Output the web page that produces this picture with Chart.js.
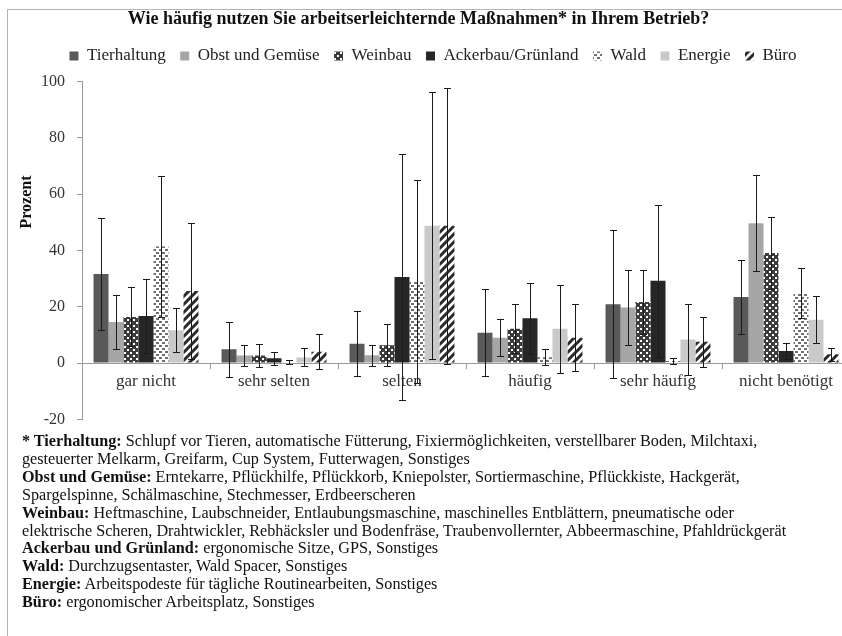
<!DOCTYPE html>
<html>
<head>
<meta charset="utf-8">
<script src="https://cdn.jsdelivr.net/npm/chart.js@4.4.1/dist/chart.umd.min.js"></script>
<style>
  html, body { margin: 0; padding: 0; width: 842px; height: 636px; overflow: hidden; background: #fff; }
  #frame { position: absolute; left: 7px; top: 9px; width: 900px; height: 700px; border-left: 1px solid #b4b4b4; border-top: 1px solid #b4b4b4; }
  #title { position: absolute; left: 0; top: 8px; width: 837px; text-align: center; font: bold 18px "Liberation Serif", "Times New Roman", serif; color: #111; line-height: 20px; }
  #chartBox { position: absolute; left: 0; top: 0; width: 866px; height: 441px; }
  #notes { position: absolute; left: 22px; top: 433px; font: 16.2px "Liberation Serif", "Times New Roman", serif; line-height: 17.9px; color: #111; white-space: nowrap; }
</style>
</head>
<body>
<div id="frame"></div>
<div id="chartBox"><canvas id="chart" width="866" height="441"></canvas></div>
<div id="title">Wie häufig nutzen Sie arbeitserleichternde Maßnahmen* in Ihrem Betrieb?</div>
<div id="notes">
<b>* Tierhaltung:</b> Schlupf vor Tieren, automatische Fütterung, Fixiermöglichkeiten, verstellbarer Boden, Milchtaxi,<br>
gesteuerter Melkarm, Greifarm, Cup System, Futterwagen, Sonstiges<br>
<b>Obst und Gemüse:</b> Erntekarre, Pflückhilfe, Pflückkorb, Kniepolster, Sortiermaschine, Pflückkiste, Hackgerät,<br>
Spargelspinne, Schälmaschine, Stechmesser, Erdbeerscheren<br>
<b>Weinbau:</b> Heftmaschine, Laubschneider, Entlaubungsmaschine, maschinelles Entblättern, pneumatische oder<br>
elektrische Scheren, Drahtwickler, Rebhäcksler und Bodenfräse, Traubenvollernter, Abbeermaschine, Pfahldrückgerät<br>
<b>Ackerbau und Grünland:</b> ergonomische Sitze, GPS, Sonstiges<br>
<b>Wald:</b> Durchzugsentaster, Wald Spacer, Sonstiges<br>
<b>Energie:</b> Arbeitspodeste für tägliche Routinearbeiten, Sonstiges<br>
<b>Büro:</b> ergonomischer Arbeitsplatz, Sonstiges
</div>
<script>
const categories = ['gar nicht', 'sehr selten', 'selten', 'häufig', 'sehr häufig', 'nicht benötigt'];
const seriesNames = ['Tierhaltung', 'Obst und Gemüse', 'Weinbau', 'Ackerbau/Grünland', 'Wald', 'Energie', 'Büro'];

const tierhaltung = [31.6, 4.9, 6.9, 10.8, 20.9, 23.5];
const obstGemuese = [14.6, 2.7, 2.8, 9.0, 19.7, 49.7];
const weinbau     = [16.4, 2.7, 6.3, 12.2, 21.7, 39.1];
const ackerbau    = [16.7, 1.7, 30.6, 15.9, 29.2, 4.3];
const wald        = [41.4, 0.4, 28.9, 2.1, 0.7, 24.8];
const energie     = [11.7, 2.0, 48.8, 12.2, 8.4, 15.4];
const buero       = [25.6, 4.0, 48.8, 9.0, 7.6, 3.1];

// standard deviations (error bars)
const tierhaltungErr = [20.0, 9.7, 11.5, 15.4, 26.3, 13.0];
const obstGemueseErr = [9.6, 3.6, 3.7, 6.6, 13.4, 17.0];
const weinbauErr     = [10.5, 4.1, 7.5, 8.7, 11.5, 12.7];
const ackerbauErr    = [13.0, 2.3, 43.7, 12.5, 27.0, 2.7];
const waldErr        = [25.0, 0.6, 36.0, 2.8, 1.0, 8.8];
const energieErr     = [7.8, 3.2, 47.5, 15.6, 12.5, 8.3];
const bueroErr       = [24.0, 6.2, 49.0, 11.9, 8.9, 2.4];

const yTicks = [-20, 0, 20, 40, 60, 80, 100];

const ctx = document.getElementById('chart').getContext('2d');

function makePattern(size, draw) {
  const c = document.createElement('canvas');
  c.width = size; c.height = size;
  const p = c.getContext('2d');
  draw(p, size);
  return ctx.createPattern(c, 'repeat');
}

const weinbauFill = makePattern(6, (p, s) => {
  p.fillStyle = '#3c3c3c'; p.fillRect(0, 0, s, s);
  p.fillStyle = '#ffffff';
  p.fillRect(1, 1, 2, 2); p.fillRect(4, 4, 2, 2);
});
const waldFill = makePattern(6, (p, s) => {
  p.fillStyle = '#ffffff'; p.fillRect(0, 0, s, s);
  p.fillStyle = '#707070';
  p.fillRect(0, 0, 3, 2); p.fillRect(3, 3, 3, 2);
});
const bueroFill = makePattern(8, (p, s) => {
  p.fillStyle = '#ffffff'; p.fillRect(0, 0, s, s);
  p.strokeStyle = '#2a2a2a'; p.lineWidth = 3;
  p.beginPath();
  p.moveTo(-2, s + 2); p.lineTo(s + 2, -2);
  p.moveTo(-2, 2); p.lineTo(2, -2);
  p.moveTo(s - 2, s + 2); p.lineTo(s + 2, s - 2);
  p.stroke();
});

const values = [tierhaltung, obstGemuese, weinbau, ackerbau, wald, energie, buero];
const errors = [tierhaltungErr, obstGemueseErr, weinbauErr, ackerbauErr, waldErr, energieErr, bueroErr];
const fills = ['#595959', '#a6a6a6', weinbauFill, '#262626', waldFill, '#c9c9c9', bueroFill];

const errorBars = {
  id: 'errorBars',
  afterDatasetsDraw(chart) {
    const c = chart.ctx;
    const y = chart.scales.y;
    c.save();
    c.strokeStyle = '#1a1a1a';
    c.lineWidth = 1;
    chart.data.datasets.forEach((ds, i) => {
      const meta = chart.getDatasetMeta(i);
      meta.data.forEach((bar, j) => {
        const v = ds.data[j], e = ds.errors[j];
        const x = Math.round(bar.x) + 0.5;
        const top = Math.round(y.getPixelForValue(v + e)) + 0.5;
        const bot = Math.round(y.getPixelForValue(v - e)) + 0.5;
        c.beginPath();
        c.moveTo(x, top); c.lineTo(x, bot);
        c.moveTo(x - 3.5, top); c.lineTo(x + 3.5, top);
        c.moveTo(x - 3.5, bot); c.lineTo(x + 3.5, bot);
        c.stroke();
      });
    });
    c.restore();
  }
};

// a bit more room between legend and plot
const legendGap = {
  id: 'legendGap',
  beforeInit(chart) {
    const fit = chart.legend.fit;
    chart.legend.fit = function () {
      fit.call(this);
      this.height += 7;
    };
  }
};

const yLabel = {
  id: 'yLabel',
  afterDraw(chart) {
    const c = chart.ctx;
    c.save();
    c.translate(27, 202);
    c.rotate(-Math.PI / 2);
    c.font = 'bold 16px "Liberation Serif", serif';
    c.fillStyle = '#111';
    c.textAlign = 'center';
    c.textBaseline = 'middle';
    c.fillText('Prozent', 0, 0);
    c.restore();
  }
};

new Chart(ctx, {
  type: 'bar',
  data: {
    labels: categories,
    datasets: seriesNames.map((name, i) => ({
      label: name,
      data: values[i],
      errors: errors[i],
      backgroundColor: fills[i],
      borderWidth: 0,
      barPercentage: 1.0,
      categoryPercentage: 0.82
    }))
  },
  options: {
    responsive: false,
    animation: false,
    layout: { padding: { top: 33, right: 16, bottom: 12, left: 16 } },
    plugins: {
      tooltip: { enabled: false },
      legend: {
        position: 'top',
        labels: {
          boxWidth: 9, boxHeight: 9, padding: 14.5,
          color: '#222',
          font: { family: '"Liberation Serif", serif', size: 17 }
        }
      }
    },
    scales: {
      x: {
        position: { y: 0 },
        grid: { offset: true, drawOnChartArea: false, tickLength: 5, color: '#9a9a9a' },
        border: { color: '#9a9a9a' },
        ticks: { color: '#333', padding: 3, font: { family: '"Liberation Serif", serif', size: 17 }, maxRotation: 0 }
      },
      y: {
        min: -20, max: 100,
        afterBuildTicks(scale) { scale.ticks = yTicks.map(v => ({ value: v })); },
        afterFit(scale) { scale.width = 66; },
        grid: { drawOnChartArea: false, tickLength: 5, color: '#9a9a9a' },
        border: { color: '#9a9a9a' },
        ticks: { color: '#333', padding: 12, font: { family: '"Liberation Serif", serif', size: 16 } }
      }
    }
  },
  plugins: [errorBars, legendGap, yLabel]
});
</script>
</body>
</html>
